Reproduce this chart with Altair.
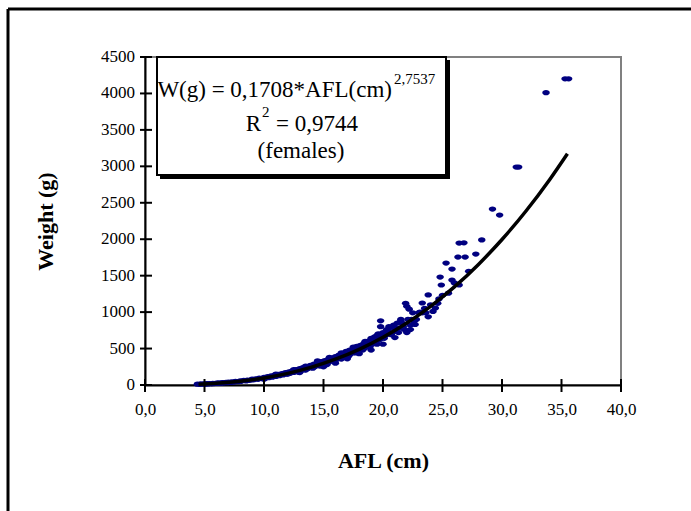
import altair as alt
import pandas as pd

# ---- data ----
afl = [4.4, 4.6, 4.7, 4.9, 5.0, 5.1, 5.2, 5.3, 5.4, 5.6, 5.7, 5.8, 6.0, 6.1, 6.2, 6.4, 6.5, 6.6, 6.8, 6.9,
       7.0, 7.2, 7.3, 7.5, 7.6, 7.8, 8.0, 8.1, 8.3, 8.5, 8.6, 8.8, 9.0, 9.1, 9.3, 9.5, 9.6, 9.8, 10.0, 10.1,
       10.3, 10.4, 10.6, 10.7, 10.9, 11.0, 11.2, 11.3, 11.5, 11.6, 11.8, 11.9, 12.1, 12.2, 12.4, 12.5, 12.7, 12.8, 13.0, 13.1,
       13.3, 13.4, 13.6, 13.7, 13.9, 14.0, 14.2, 14.3, 14.5, 14.6, 14.8, 14.9, 15.1, 15.2, 15.4, 15.5, 15.7, 15.8, 16.0, 16.1,
       16.3, 16.4, 16.6, 16.7, 16.9, 17.0, 17.2, 17.3, 17.5, 17.6, 17.8, 17.9, 18.1, 18.2, 18.4, 18.5, 18.7, 18.8, 19.0, 19.1,
       19.3, 19.4, 19.6, 19.7, 19.8, 19.8, 19.9, 20.0, 20.2, 20.3, 20.5, 20.6, 20.8, 20.9, 21.1, 21.2, 21.4, 21.5, 21.7, 21.9,
       22.0, 22.1, 22.2, 22.3, 22.3, 22.5, 22.6, 22.8, 23.0, 23.3, 23.3, 23.8, 23.8, 24.4, 24.7, 24.8, 24.9, 25.3, 25.8, 25.8,
       26.3, 26.4, 26.4, 26.9, 26.8, 27.8, 28.3, 29.2, 29.8, 31.2, 31.4, 33.7, 35.3, 35.6,
       12.0, 12.3, 12.6, 12.9, 13.2, 13.5, 13.8, 14.1, 14.4, 14.7, 15.0, 15.3, 15.6, 15.9, 16.2, 16.5, 16.8, 17.1, 17.4, 17.7,
       18.0, 18.3, 18.6, 18.9, 19.2, 19.5, 19.8, 20.1, 20.4, 20.7, 21.0, 21.3, 21.6, 21.8, 22.4, 22.7, 23.1, 23.5, 23.6, 24.0,
       24.2, 24.6, 25.0, 25.5, 26.0, 27.2,
       14.5, 15.0, 15.5, 16.0, 16.5, 17.0, 17.5, 18.0, 18.5, 19.0, 19.5, 20.0, 20.5, 21.0, 21.5, 22.0, 12.5, 13.0, 13.5, 11.0,
       10.0]
weight = [12, 9, 14, 12, 17, 13, 18, 15, 20, 17, 22, 19, 26, 21, 28, 25, 33, 28, 36, 31,
          40, 36, 44, 40, 50, 45, 58, 50, 62, 56, 68, 64, 80, 70, 85, 78, 95, 88, 105, 92,
          115, 100, 125, 108, 135, 118, 145, 128, 155, 138, 170, 150, 180, 160, 195, 172, 210, 188, 225, 195,
          240, 210, 250, 228, 270, 240, 285, 255, 300, 270, 320, 290, 335, 300, 350, 320, 370, 335, 390, 350,
          410, 370, 430, 390, 460, 410, 480, 430, 500, 445, 530, 470, 545, 490, 570, 510, 600, 540, 640, 560,
          660, 590, 700, 620, 800, 880, 650, 720, 680, 760, 700, 790, 720, 820, 760, 850, 780, 880, 800, 1120,
          1080, 900, 1040, 820, 760, 990, 870, 900, 990, 1125, 990, 1235, 935, 1056, 1180, 1481, 1372, 1673, 1591, 1440,
          1756, 1948, 1372, 1756, 1950, 1797, 1990, 2414, 2332, 2990, 2990, 4010, 4200, 4200,
          150, 185, 200, 175, 230, 205, 255, 230, 295, 260, 310, 280, 365, 330, 395, 355, 440, 395, 470, 440,
          520, 480, 560, 520, 610, 560, 690, 640, 740, 690, 780, 720, 850, 760, 900, 830, 1000, 1050, 990, 1100,
          1010, 1120, 1230, 1260, 1400, 1560,
          330, 250, 380, 300, 440, 360, 520, 430, 600, 480, 680, 560, 800, 650, 900, 720, 210, 170, 260, 150,
          80]

# fitted power curve
curve_afl = [4.5, 6, 8, 10, 12, 14, 16, 18, 20, 22, 24, 26, 28, 30, 32, 34, 35.5]
curve_weight = [11, 24, 52, 97, 160, 245, 354, 489, 654, 850, 1080, 1346, 1651, 1996, 2384, 2817, 3174]

x_ticks = [0, 5, 10, 15, 20, 25, 30, 35, 40]
y_ticks = [0, 500, 1000, 1500, 2000, 2500, 3000, 3500, 4000, 4500]

eq_main = "W(g) = 0,1708*AFL(cm)"
eq_exp = "2,7537"
r2_label = "R"
r2_exp = "2"
r2_value = "= 0,9744"
group_label = "(females)"

W, H = 476, 328
SERIF = "Liberation Serif"

df = pd.DataFrame({"AFL": afl, "Weight": weight})
cdf = pd.DataFrame({"AFL": curve_afl, "Weight": curve_weight})
ydf = pd.DataFrame({"Weight": y_ticks})
one = pd.DataFrame({"a": [0]})

xs = alt.Scale(domain=[0, 40], nice=False, zero=False)
ys = alt.Scale(domain=[0, 4500], nice=False)

x_axis = alt.Axis(values=x_ticks, labelExpr="replace(format(datum.value, '.1f'), '.', ',')",
                  ticks=False, labelPadding=16, labelFlush=False, labelOverlap=False,
                  title="AFL (cm)", titleY=75, titleBaseline="middle")
y_axis = alt.Axis(values=y_ticks, ticks=False, labels=False, title="Weight (g)",
                  titleX=-100, titleY=164, titleBaseline="middle", titleAngle=-90)

ellipse = "M -1 0 A 1 0.7 0 1 0 1 0 A 1 0.7 0 1 0 -1 0 Z"

points = alt.Chart(df).mark_point(filled=True, shape=ellipse, size=56, color="#000080", opacity=1).encode(
    x=alt.X("AFL:Q", scale=xs, axis=x_axis),
    y=alt.Y("Weight:Q", scale=ys, axis=y_axis),
)

curve = alt.Chart(cdf).mark_line(color="black", strokeWidth=3.5, interpolate="monotone").encode(
    x=alt.X("AFL:Q", scale=xs, title="AFL (cm)"),
    y=alt.Y("Weight:Q", scale=ys, title="Weight (g)"),
)

xt = alt.Chart(pd.DataFrame({"AFL": x_ticks})).mark_rule(color="black", strokeWidth=2).encode(
    x=alt.X("AFL:Q", scale=xs, title="AFL (cm)"),
    y=alt.value(H - 6), y2=alt.value(H + 7),
)
yt = alt.Chart(ydf).mark_rule(color="black", strokeWidth=2).encode(
    y=alt.Y("Weight:Q", scale=ys, title="Weight (g)"),
    x=alt.value(-5), x2=alt.value(7),
)
ylab = alt.Chart(ydf).mark_text(font=SERIF, fontSize=17, color="black", align="right",
                                baseline="middle").encode(
    y=alt.Y("Weight:Q", scale=ys, title="Weight (g)"),
    x=alt.value(-10),
    text=alt.Text("Weight:Q", format="d"),
)

# equation box with shadow
shadow = alt.Chart(one).mark_rect(color="black").encode(
    x=alt.value(15), x2=alt.value(305), y=alt.value(3), y2=alt.value(122))
box = alt.Chart(one).mark_rect(fill="white", stroke="black", strokeWidth=2).encode(
    x=alt.value(12), x2=alt.value(301), y=alt.value(0), y2=alt.value(118))

def txt(s, x, y, size, align):
    return alt.Chart(one).mark_text(font=SERIF, fontSize=size, color="black", align=align,
                                    baseline="alphabetic").encode(
        x=alt.value(x), y=alt.value(y), text=alt.value(s))

t1 = txt(eq_main, 247, 40, 23, "right")
t1e = txt(eq_exp, 249, 27, 15, "left")
t2 = txt(r2_label, 116, 74, 23, "right")
t2e = txt(r2_exp, 117, 60, 15, "left")
t2v = txt(r2_value, 131, 74, 23, "left")
t3 = txt(group_label, 156, 101, 23, "center")

# outer chart frame (top and left edges)
frame_top = alt.Chart(one).mark_rule(color="black", strokeWidth=3).encode(
    x=alt.value(-137), x2=alt.value(546), y=alt.value(-48))
frame_left = alt.Chart(one).mark_rule(color="black", strokeWidth=3).encode(
    x=alt.value(-137), y=alt.value(-48), y2=alt.value(454))

chart = alt.layer(
    points, curve, xt, yt, ylab, shadow, box, t1, t1e, t2, t2e, t2v, t3, frame_top, frame_left
).properties(
    width=W, height=H,
    padding={"left": 145, "top": 57, "right": 70, "bottom": 126},
    autosize=alt.AutoSizeParams(type="none"),
    background="white",
).configure_view(
    stroke="#808080", strokeWidth=2
).configure_axis(
    grid=False, domainColor="black", domainWidth=2,
    labelFont=SERIF, labelFontSize=17, labelColor="black",
    titleFont=SERIF, titleFontSize=22, titleFontWeight="bold", titleColor="black",
)

chart.save("out.html", embed_options={"renderer": "svg", "actions": False})
